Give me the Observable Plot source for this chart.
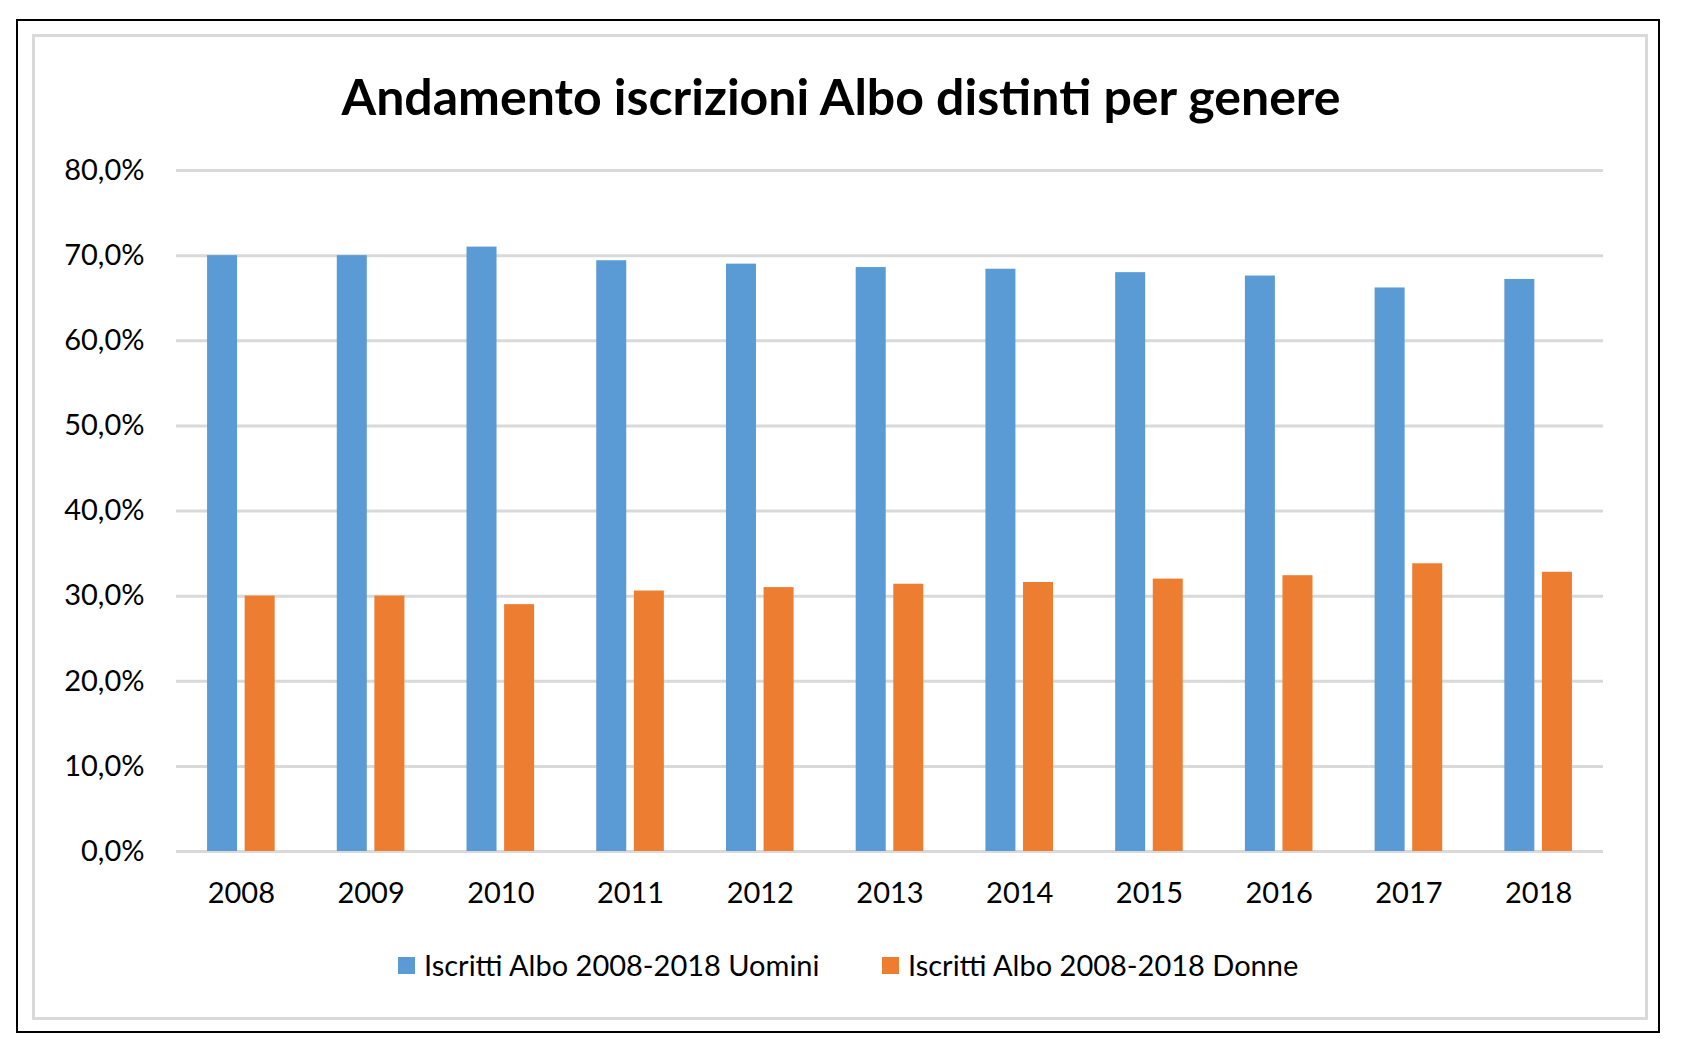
<!DOCTYPE html>
<html>
<head>
<meta charset="utf-8">
<script src="https://cdn.jsdelivr.net/npm/d3@7"></script>
<script src="https://cdn.jsdelivr.net/npm/@observablehq/plot@0.6"></script>
<style>
  html, body { margin: 0; padding: 0; background: #fff; }
  body { width: 1682px; height: 1054px; position: relative; overflow: hidden; font-family: Lato, "Open Sans", sans-serif; }
  #outer { position: absolute; left: 16px; top: 19px; width: 1644px; height: 1014px; border: 2px solid #000; box-sizing: border-box; }
  #inner { position: absolute; left: 32px; top: 34px; width: 1616px; height: 986px; border: 3px solid #d9d9d9; box-sizing: border-box; }
  #title { position: absolute; left: 0; width: 1682px; top: 66px; text-align: center; font-size: 50px; font-weight: 700; color: #000; line-height: 60px; }
  #chart { position: absolute; left: 0; top: 0; }
  #legend { position: absolute; top: 949px; left: 0; width: 1682px; font-size: 29px; color: #000; line-height: 32px; }
  .item { position: absolute; top: 0; display: flex; align-items: center; white-space: nowrap; }
  .sw { width: 17px; height: 17px; margin-right: 9px; display: inline-block; }
</style>
</head>
<body>
<div id="outer"></div>
<div id="inner"></div>
<div id="title">Andamento iscrizioni Albo distinti per genere</div>
<div id="chart"></div>
<div id="legend"></div>
<script>
const years = ["2008","2009","2010","2011","2012","2013","2014","2015","2016","2017","2018"];
const uomini = [70.0, 70.0, 71.0, 69.4, 69.0, 68.6, 68.4, 68.0, 67.6, 66.2, 67.2];
const donne  = [30.0, 30.0, 29.0, 30.6, 31.0, 31.4, 31.6, 32.0, 32.4, 33.8, 32.8];
const yTicks = [0, 10, 20, 30, 40, 50, 60, 70, 80];
const seriesNames = ["Iscritti Albo 2008-2018 Uomini", "Iscritti Albo 2008-2018 Donne"];
const colors = ["#5b9bd5", "#ed7d31"];

const dataU = years.map((y, i) => ({year: y, value: uomini[i]}));
const dataD = years.map((y, i) => ({year: y, value: donne[i]}));

const fmt = d => d.toFixed(1).replace(".", ",") + "%";

const W = 1682, H = 1054;
const mL = 176, mR = 79, mT = 170, mB = 203;
const band = (W - mL - mR) / years.length;
const barW = 30;
const off = 18.8;
const inset = (band - barW) / 2;

const plot = Plot.plot({
  width: W,
  height: H,
  marginLeft: mL,
  marginRight: mR,
  marginTop: mT,
  marginBottom: mB,
  style: {fontFamily: "Lato, 'Open Sans', sans-serif", fontSize: "29px", color: "#000", background: "transparent"},
  x: {domain: years, padding: 0, round: false, label: null},
  y: {domain: [0, 80], label: null},
  marks: [
    Plot.ruleY(yTicks, {stroke: "#d9d9d9", strokeWidth: 3}),
    Plot.barY(dataU, {x: "year", y: "value", fill: colors[0], dx: -off, insetLeft: inset, insetRight: inset}),
    Plot.barY(dataD, {x: "year", y: "value", fill: colors[1], dx: off, insetLeft: inset, insetRight: inset}),
    Plot.axisY({ticks: yTicks, tickFormat: fmt, tickSize: 0, tickPadding: 32, fontSize: 29, fill: "#000", label: null}),
    Plot.axisX({tickSize: 0, tickPadding: 31, fontSize: 29, fill: "#000", label: null})
  ]
});
document.getElementById("chart").appendChild(plot);

const legend = document.getElementById("legend");
const lefts = [398, 882];
seriesNames.forEach((name, i) => {
  const it = document.createElement("div");
  it.className = "item";
  it.style.left = lefts[i] + "px";
  const sw = document.createElement("span");
  sw.className = "sw";
  sw.style.background = colors[i];
  const tx = document.createElement("span");
  tx.textContent = name;
  it.appendChild(sw);
  it.appendChild(tx);
  legend.appendChild(it);
});
</script>
</body>
</html>
